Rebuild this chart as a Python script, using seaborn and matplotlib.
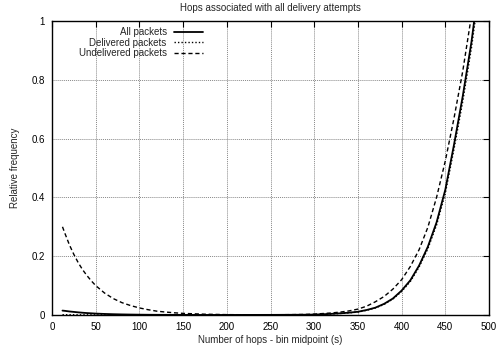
import matplotlib
matplotlib.use("Agg")
import matplotlib.pyplot as plt
import seaborn as sns
import pandas as pd

# ---- data ----
hops_x = [12, 15, 20, 25, 30, 35, 40, 45, 50, 60, 70, 80, 90, 100, 110, 120, 130, 140, 150,
          175, 200, 225, 250, 275, 290, 300, 310, 320, 330, 340, 350, 360, 370, 380, 390,
          400, 410, 420, 430, 440, 450, 460, 470, 480, 485, 490]
all_packets = [0.015, 0.014, 0.012, 0.0105, 0.009, 0.0077, 0.0066, 0.0057, 0.0048, 0.0036,
               0.0027, 0.002, 0.0015, 0.0011, 0.0008, 0.0006, 0.0005, 0.0004, 0.0003,
               0.0002, 0.0002, 0.0003, 0.0004, 0.0007, 0.001, 0.0015, 0.0025, 0.004, 0.0058,
               0.008, 0.011, 0.017, 0.025, 0.038, 0.056, 0.083, 0.118, 0.168, 0.232, 0.315,
               0.426, 0.58, 0.745, 0.93, 1.045, 1.15]
delivered_packets = [0.001, 0.001, 0.0009, 0.0008, 0.0007, 0.0006, 0.0005, 0.0005, 0.0004, 0.0003,
                     0.0003, 0.0002, 0.0002, 0.0002, 0.0001, 0.0001, 0.0001, 0.0001, 0.0001,
                     0.0001, 0.0001, 0.0002, 0.0003, 0.0006, 0.0009, 0.0013, 0.0022, 0.0036, 0.0053,
                     0.0074, 0.010, 0.016, 0.024, 0.036, 0.054, 0.080, 0.114, 0.163, 0.225, 0.306,
                     0.414, 0.565, 0.727, 0.91, 1.02, 1.13]
undelivered_packets = [0.30, 0.276, 0.238, 0.206, 0.178, 0.154, 0.134, 0.116, 0.100, 0.075,
                       0.056, 0.042, 0.032, 0.024, 0.018, 0.013, 0.010, 0.0075, 0.0055,
                       0.0027, 0.0013, 0.0008, 0.0008, 0.0013, 0.002, 0.003, 0.005, 0.007, 0.010,
                       0.014, 0.020, 0.030, 0.045, 0.063, 0.088, 0.12, 0.165, 0.222, 0.298, 0.40,
                       0.524, 0.67, 0.83, 1.02, 1.12, 1.22]
series_names = ["All packets", "Delivered packets", "Undelivered packets"]
x_ticks = [0, 50, 100, 150, 200, 250, 300, 350, 400, 450, 500]
y_ticks = [0, 0.2, 0.4, 0.6, 0.8, 1]
y_tick_labels = ["0", "0.2", "0.4", "0.6", "0.8", "1"]

sns.set_theme(style="white")
plt.rcParams["font.family"] = ["Liberation Sans", "DejaVu Sans"]

fig = plt.figure(figsize=(4.99, 3.54), dpi=100)
ax = fig.add_axes([52 / 499, 1 - 315 / 354, 437 / 499, 294 / 354])

styles = [
    dict(color="black", linewidth=1.3, linestyle="-"),
    dict(color="black", linewidth=1.0, linestyle=(0, (1, 1.5))),
    dict(color="black", linewidth=1.0, linestyle=(0, (3, 2))),
]
for name, vals, st in zip(series_names, [all_packets, delivered_packets, undelivered_packets], styles):
    df = pd.DataFrame({"x": hops_x, "y": vals})
    sns.lineplot(data=df, x="x", y="y", ax=ax, label=name, **st)

ax.set_xlim(0, 500)
ax.set_ylim(0, 1)
ax.set_xticks(x_ticks)
ax.set_xticklabels([str(v) for v in x_ticks])
ax.set_yticks(y_ticks)
ax.set_yticklabels(y_tick_labels)
ax.grid(True, color="#888888", linestyle=(0, (1, 1)), linewidth=0.7)
ax.set_axisbelow(True)
ax.tick_params(axis="both", which="both", direction="in", length=4, width=0.8,
               top=True, right=True, labelsize=7, colors="black", pad=5)
for s in ax.spines.values():
    s.set_color("black")
    s.set_linewidth(1.0)

ax.set_xlabel("Number of hops - bin midpoint (s)", fontsize=7, labelpad=2)
ax.set_ylabel("Relative frequency", fontsize=7, labelpad=8)
ax.set_title("Hops associated with all delivery attempts", fontsize=7, pad=7)

leg = ax.legend(loc="upper right", bbox_to_anchor=((209 - 52) / 437, 1.0), frameon=False,
                markerfirst=False, fontsize=7, handlelength=2.9, handletextpad=0.8,
                labelspacing=0.05, borderaxespad=0.25)

fig.savefig("out.png", dpi=100)
